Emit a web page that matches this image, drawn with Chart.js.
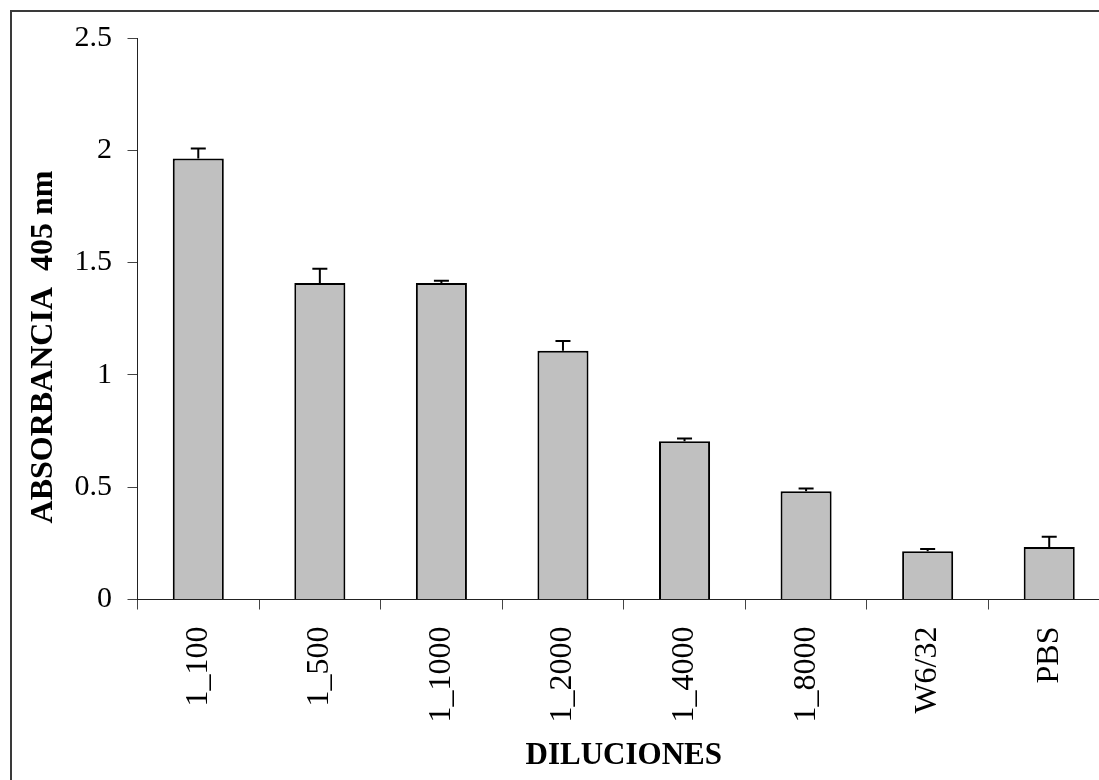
<!DOCTYPE html>
<html>
<head>
<meta charset="utf-8">
<script src="https://cdn.jsdelivr.net/npm/chart.js@4/dist/chart.umd.min.js"></script>
<style>
    html, body { margin: 0; padding: 0; background: #fff; overflow: hidden; }
    #marco { position: absolute; left: 0; top: 0; width: 1130px; height: 780px; }
    #borde { position: absolute; left: 10px; top: 10px; width: 1200px; height: 900px;
             border-left: 2px solid #3a3a3a; border-top: 2px solid #3a3a3a; pointer-events: none; }
</style>
</head>
<body>
<div id="marco">
    <canvas id="barras" width="1130" height="780"></canvas>
</div>
<div id="borde"></div>
<script>
// datos
var diluciones = ["1_100", "1_500", "1_1000", "1_2000", "1_4000", "1_8000", "W6/32", "PBS"];
var absorbancia = [1.963, 1.409, 1.409, 1.107, 0.705, 0.482, 0.215, 0.234];
var errores = [0.045, 0.064, 0.010, 0.044, 0.012, 0.012, 0.010, 0.045];
var marcasY = [0, 0.5, 1, 1.5, 2, 2.5];

var tituloY = "ABSORBANCIA  405 nm";
var tituloX = "DILUCIONES";

/**
 * Dibuja las barras de error (solo la parte de arriba) y el título del eje Y
 */
var pluginErrores = {
    id: "errores",
    afterDatasetsDraw: function (chart) {
        var ctx = chart.ctx;
        var ejeY = chart.scales.y;
        var barras = chart.getDatasetMeta(0).data;
        ctx.save();
        ctx.strokeStyle = "#000";
        ctx.lineWidth = 2;
        for (var i = 0; i < barras.length; i++) {
            var x = barras[i].x;
            var yBase = ejeY.getPixelForValue(absorbancia[i]);
            var yTope = ejeY.getPixelForValue(absorbancia[i] + errores[i]);
            ctx.beginPath();
            ctx.moveTo(x, yBase);
            ctx.lineTo(x, yTope);
            ctx.moveTo(x - 7.5, yTope);
            ctx.lineTo(x + 7.5, yTope);
            ctx.stroke();
        }
        ctx.restore();
    },
    afterDraw: function (chart) {
        var ctx = chart.ctx;
        ctx.save();
        ctx.translate(44, 347);
        ctx.rotate(-Math.PI / 2);
        ctx.font = "bold 32px 'Liberation Serif'";
        ctx.fillStyle = "#000";
        ctx.textAlign = "center";
        ctx.textBaseline = "middle";
        ctx.fillText(tituloY, 0, 0);
        ctx.restore();
    }
};

function cargaGraficoBarras() {
    var datos = {
        labels: diluciones,
        datasets: [{
            label: "Absorbancia",
            data: absorbancia,
            backgroundColor: "#c0c0c0",
            borderColor: "#000",
            borderWidth: 2,
            categoryPercentage: 1,
            barPercentage: 0.42
        }]
    };

    var config = {
        type: "bar",
        data: datos,
        plugins: [pluginErrores],
        options: {
            responsive: false,
            animation: false,
            layout: { padding: { left: 0, right: 20, top: 38, bottom: 0 } },
            plugins: {
                legend: { display: false },
                tooltip: { enabled: false }
            },
            scales: {
                x: {
                    afterFit: function (eje) { eje.height = 180.5; },
                    grid: { offset: true, drawOnChartArea: false, drawTicks: true, tickLength: 10, color: "#444", lineWidth: 1 },
                    border: { display: true, color: "#222", width: 1 },
                    ticks: {
                        minRotation: 90,
                        maxRotation: 90,
                        padding: 17,
                        color: "#000",
                        font: { family: "'Liberation Serif'", size: 32 }
                    },
                    title: {
                        display: true,
                        text: tituloX,
                        color: "#000",
                        padding: { top: 0, bottom: 5 },
                        font: { family: "'Liberation Serif'", size: 31, weight: "bold" }
                    }
                },
                y: {
                    min: 0,
                    max: 2.5,
                    afterFit: function (eje) { eje.width = 137.5; },
                    afterBuildTicks: function (eje) {
                        eje.ticks = marcasY.map(function (v) { return { value: v }; });
                    },
                    grid: { drawOnChartArea: false, drawTicks: true, tickLength: 10, color: "#444", lineWidth: 1 },
                    border: { display: true, color: "#222", width: 1 },
                    ticks: {
                        padding: 15.5,
                        color: "#000",
                        font: { family: "'Liberation Serif'", size: 30 },
                        callback: function (valor) { return String(valor); }
                    }
                }
            }
        }
    };
    var grafico = document.getElementById("barras").getContext("2d");
    new Chart(grafico, config);
}

cargaGraficoBarras();
</script>
</body>
</html>
